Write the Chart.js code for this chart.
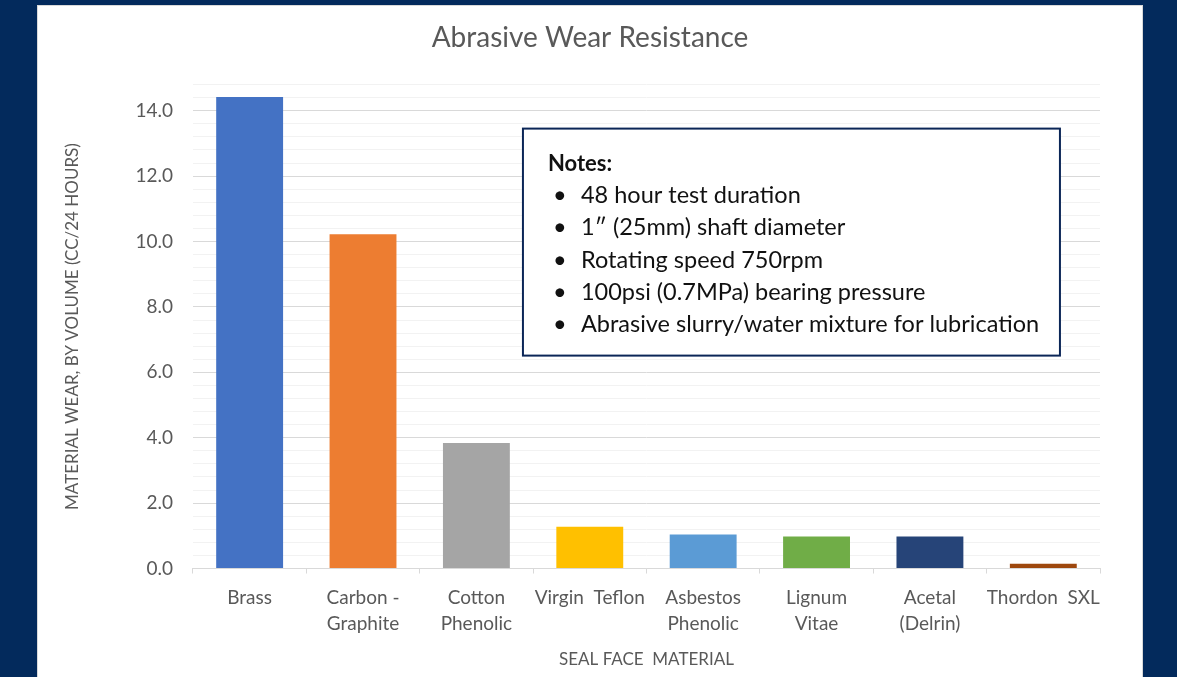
<!DOCTYPE html>
<html>
<head>
<meta charset="utf-8">
<script src="https://cdn.jsdelivr.net/npm/chart.js@4"></script>
<style>
  html, body { margin: 0; padding: 0; }
  body { background: #032a5c; width: 1177px; height: 677px; overflow: hidden; position: relative; }
  #panel { position: absolute; left: 37px; top: 5px; width: 1104px; height: 671px; background: #fff; border: 1px solid #d9d9d9; }
  #chart { display: block; }
</style>
</head>
<body>
<div id="panel"><canvas id="chart" width="1104" height="671"></canvas></div>
<script>
// Data
const materials = [
    ['Brass'], ['Carbon -', 'Graphite'], ['Cotton', 'Phenolic'], ['Virgin  Teflon'],
    ['Asbestos', 'Phenolic'], ['Lignum', 'Vitae'], ['Acetal', '(Delrin)'], ['Thordon  SXL']
];
const wear = [14.42, 10.22, 3.84, 1.28, 1.04, 0.98, 0.98, 0.15];
const barColors = ['#4472c4', '#ed7d31', '#a5a5a5', '#ffc000', '#5b9bd5', '#70ad47', '#264478', '#9e480e'];
const yMax = 14.8;
const yStep = 0.4;
const notesTitle = 'Notes:';
const notes = [
    '48 hour test duration',
    '1\u2033 (25mm) shaft diameter',
    'Rotating speed 750rpm',
    '100psi (0.7MPa) bearing pressure',
    'Abrasive slurry/water mixture for lubrication'
];

const fontFamily = 'Lato, "Open Sans", sans-serif';
const textGray = '#595959';

// is this tick a labelled (major) one, every 2.0
function isMajor(v) {
    return Math.abs(v / 2 - Math.round(v / 2)) < 1e-6;
}

// Draw the notes box on top of the plot
const notesPlugin = {
    id: 'notesBox',
    afterDraw: (chart) => {
        const ctx = chart.ctx;
        const area = chart.chartArea;
        const x = area.left + 330, y = area.top + 44;
        const w = 537, h = 227;
        ctx.save();
        ctx.fillStyle = '#fff';
        ctx.fillRect(x, y, w, h);
        ctx.strokeStyle = '#0b2657';
        ctx.lineWidth = 2;
        ctx.strokeRect(x, y, w, h);
        ctx.fillStyle = '#111';
        ctx.textBaseline = 'middle';
        ctx.font = 'bold 22px ' + fontFamily;
        ctx.fillText(notesTitle, x + 25, y + 35);
        ctx.font = '23.5px ' + fontFamily;
        for (let i = 0; i < notes.length; i++) {
            let ly = y + 67 + i * 32.3;
            ctx.fillText('\u2022', x + 30, ly);
            ctx.fillText(notes[i], x + 58, ly);
        }
        ctx.restore();
    }
};

new Chart(document.getElementById('chart'), {
    type: 'bar',
    data: {
        labels: materials,
        datasets: [{
            data: wear,
            backgroundColor: barColors,
            borderWidth: 0,
            barPercentage: 0.59,
            categoryPercentage: 1.0
        }]
    },
    options: {
        responsive: false,
        animation: false,
        events: [],
        layout: { padding: 0 },
        plugins: {
            legend: { display: false },
            tooltip: { enabled: false },
            title: {
                display: true,
                text: 'Abrasive Wear Resistance',
                color: textGray,
                font: { family: fontFamily, size: 28, weight: 'normal' },
                padding: { top: 15, bottom: 30 }
            }
        },
        scales: {
            x: {
                grid: {
                    drawOnChartArea: false,
                    drawTicks: true,
                    tickLength: 5,
                    color: '#d9d9d9'
                },
                border: { display: true, color: '#d9d9d9', width: 1 },
                ticks: {
                    color: textGray,
                    font: { family: fontFamily, size: 19, lineHeight: 1.37 },
                    padding: 11,
                    maxRotation: 0,
                    autoSkip: false
                },
                title: {
                    display: true,
                    text: 'SEAL FACE  MATERIAL',
                    color: textGray,
                    font: { family: fontFamily, size: 17 },
                    padding: { top: 2, bottom: 7 }
                }
            },
            y: {
                min: 0,
                max: yMax,
                grid: {
                    drawTicks: false,
                    color: (c) => isMajor(c.tick.value) ? '#d9d9d9' : '#f2f2f2',
                    lineWidth: 1
                },
                border: { display: false },
                ticks: {
                    stepSize: yStep,
                    color: textGray,
                    font: { family: fontFamily, size: 19 },
                    padding: 20,
                    autoSkip: false,
                    callback: (v) => isMajor(v) ? v.toFixed(1) : ''
                },
                title: {
                    display: true,
                    text: 'MATERIAL WEAR, BY VOLUME (CC/24 HOURS)',
                    color: textGray,
                    font: { family: fontFamily, size: 17 },
                    padding: { top: 24, bottom: 33 }
                }
            },
            // empty right axis, only keeps the right margin of the plot
            spacer: {
                position: 'right',
                display: true,
                grid: { drawOnChartArea: false, drawTicks: false },
                border: { display: false },
                ticks: { display: false },
                afterFit: (s) => { s.width = 42; }
            }
        }
    },
    plugins: [notesPlugin]
});
</script>
</body>
</html>
